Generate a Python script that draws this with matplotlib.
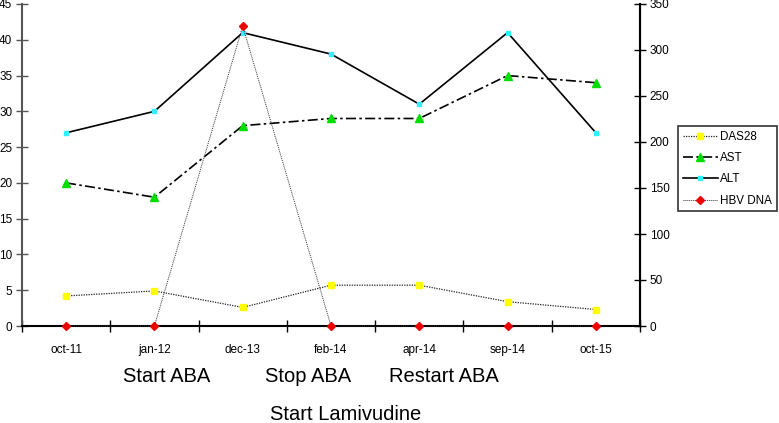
import matplotlib
matplotlib.use("Agg")
import matplotlib.pyplot as plt
from matplotlib.ticker import FixedLocator
from matplotlib.transforms import blended_transform_factory

plt.rcParams['font.family'] = ['Liberation Sans', 'DejaVu Sans']

categories = ["oct-11", "jan-12", "dec-13", "feb-14", "apr-14", "sep-14", "oct-15"]
das28 = [4.2, 4.9, 2.6, 5.7, 5.7, 3.4, 2.3]
ast = [20, 18, 28, 29, 29, 35, 34]
alt = [27, 30, 41, 38, 31, 41, 27]
hbv_dna = [0, 0, 326, 0, 0, 0, 0]
left_ticks = [0, 5, 10, 15, 20, 25, 30, 35, 40, 45]
right_ticks = [0, 50, 100, 150, 200, 250, 300, 350]
annot_texts = ["Start ABA", "Stop ABA", "Restart ABA", "Start Lamivudine"]
annot_x = [1.14, 2.74, 4.28, 3.17]
annot_row = [0, 0, 0, 1]

fig = plt.figure(figsize=(7.79, 4.23), dpi=100)
ax = fig.add_axes([22/779, 1-326/423, (640-22)/779, (326-4)/423])
ax2 = ax.twinx()

x = list(range(len(categories)))
l1, = ax.plot(x, das28, color='#222222', lw=0.9, ls=(0, (1, 1)), marker='s',
              ms=5, mfc='#ffff00', mec='#ffff00', zorder=5, clip_on=False)
l2, = ax.plot(x, ast, color='black', lw=1.2, ls=(0, (6, 2, 1.5, 2)), marker='^',
              ms=6, mfc='#00dd00', mec='#00dd00', zorder=5, clip_on=False)
l3, = ax.plot(x, alt, color='black', lw=1.2, ls='-', marker='s',
              ms=3.5, mfc='#33eeff', mec='#33eeff', zorder=5, clip_on=False)
l4, = ax2.plot(x, hbv_dna, color='#333333', lw=0.7, ls=(0, (1, 1)), marker='D',
               ms=4, mfc='#ee0000', mec='#ee0000', zorder=5, clip_on=False)

ax.set_xlim(-0.5, len(categories) - 0.5)
ax.set_ylim(0, 45)
ax2.set_ylim(0, 350)

ax.set_xticks(x)
ax.set_xticklabels(categories, fontsize=8.5)
ax.xaxis.set_minor_locator(FixedLocator([i - 0.5 for i in range(len(categories) + 1)]))
ax.tick_params(axis='x', which='major', length=0, pad=13)
ax.tick_params(axis='x', which='minor', direction='inout', length=8, width=1, color='black')

ax.set_yticks(left_ticks)
ax.tick_params(axis='y', direction='inout', length=8, width=1, color='#555555',
               labelsize=8.5, pad=3)
ax2.set_yticks(right_ticks)
ax2.tick_params(axis='y', direction='inout', length=8, width=1, color='black',
                labelsize=8.5, pad=3)

for a in (ax, ax2):
    a.spines['top'].set_visible(False)
ax.spines['left'].set_color('#555555')
ax.spines['left'].set_linewidth(1.5)
ax.spines['bottom'].set_linewidth(1.5)
ax2.spines['right'].set_linewidth(1.5)
ax2.spines['left'].set_visible(False)
ax2.spines['bottom'].set_visible(False)

leg = fig.legend([l1, l2, l3, l4], ["DAS28", "AST", "ALT", "HBV DNA"],
                 loc='upper left', bbox_to_anchor=(678/779, 1-126/423),
                 borderaxespad=0, fancybox=False, fontsize=8.4,
                 handlelength=3.0, handletextpad=0.2, labelspacing=0.8,
                 borderpad=0.4, frameon=True)
leg.get_frame().set_edgecolor('black')
leg.get_frame().set_linewidth(1.2)

trans = blended_transform_factory(ax.transData, fig.transFigure)
row_y = [1 - 377/423, 1 - 414/423]
for txt, xc, r in zip(annot_texts, annot_x, annot_row):
    ax.text(xc, row_y[r], txt, transform=trans, fontsize=14.5,
            ha='center', va='center', clip_on=False)

fig.savefig("out.png", dpi=100)
